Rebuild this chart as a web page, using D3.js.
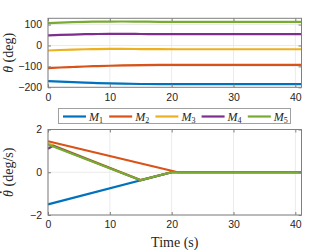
<!DOCTYPE html>
<html><head><meta charset="utf-8">
<script src="https://cdn.jsdelivr.net/npm/d3@7"></script>
<style>
html,body{margin:0;padding:0;background:#fff;}
svg{display:block;}
</style></head>
<body>
<script>
// ---------- data ----------
const seriesNames = ["1","2","3","4","5"];
const colors = ["#0072BD","#D95319","#EDB120","#7E2F8E","#77AC30"];
const xTicks = [0,10,20,30,40];
const thetaTicks = [-200,-100,0,100];
const rateTicks = [-2,0,2];

const tTheta = [0,2,4,6,8,10,12,15,18,21,41];
const theta1 = [-170,-172.9,-175.4,-177.7,-179.6,-181.3,-182.6,-184.1,-184.9,-185,-185];
const theta2 = [-108,-105.2,-102.8,-100.5,-98.6,-97,-95.6,-94,-93.1,-92.8,-92.8];
const theta3 = [-24,-21.6,-19.6,-18,-17,-16.5,-16.4,-17,-17.7,-17.9,-17.9];
const theta4 = [48,50.3,52.3,53.9,54.9,55.4,55.5,54.9,54.2,54,54];
const theta5 = [107,109.4,111.4,113,114,114.5,114.6,114,113.3,113.1,113.1];

const tRate1 = [0,20,41];        const rate1 = [-1.5,0,0];
const tRate2 = [0,21,41];        const rate2 = [1.45,0,0];
const tRate3 = [0,15,20,41];     const rate3 = [1.35,-0.36,0,0];
const tRate4 = [0,0.8,15,20,41]; const rate4 = [1.1,1.24,-0.37,0,0];
const tRate5 = [0,15,20,41];     const rate5 = [1.3,-0.37,0,0];

// ---------- layout ----------
const W = 333, H = 250;
const svg = d3.select("body").append("svg").attr("width",W).attr("height",H);
const L = 48, R = 301.5;
const x = d3.scaleLinear().domain([0,41]).range([L,R]);
const yTop = d3.scaleLinear().domain([-200,130]).range([87.3,18.3]);
const yBot = d3.scaleLinear().domain([-2,2]).range([215,129.5]);

const tickFont = "Liberation Sans, Arial, Helvetica, sans-serif";
const serif = "Liberation Serif, Times New Roman, serif";
const axisCol = "#808080";
const gridCol = "#ebebeb";
const txtCol = "#262626";

function panel(y, yTicks, tsArr, valsArr, curve){
  const g = svg.append("g");
  const [y0,y1] = y.range();
  g.selectAll(".gx").data(xTicks).enter().append("line")
    .attr("x1",d=>x(d)).attr("x2",d=>x(d)).attr("y1",y0).attr("y2",y1)
    .attr("stroke",gridCol).attr("stroke-width",1);
  g.selectAll(".gy").data(yTicks).enter().append("line")
    .attr("x1",L).attr("x2",R).attr("y1",d=>y(d)).attr("y2",d=>y(d))
    .attr("stroke",gridCol).attr("stroke-width",1);
  const line = d3.line().x(d=>x(d[0])).y(d=>y(d[1])).curve(curve);
  tsArr.forEach((ts,i)=>{
    const pts = ts.map((t,j)=>[t,valsArr[i][j]]);
    g.append("path").attr("d",line(pts))
      .attr("fill","none").attr("stroke",colors[i]).attr("stroke-width",2.2)
      .attr("stroke-linejoin","round");
  });
  const ax = d3.axisBottom(x).tickValues(xTicks).tickSize(-3).tickPadding(6).tickFormat(d3.format("d"));
  const gx = g.append("g").attr("transform",`translate(0,${y0})`).call(ax);
  const ay = d3.axisLeft(y).tickValues(yTicks).tickSize(-3).tickPadding(6).tickFormat(d3.format("d"));
  const gy = g.append("g").attr("transform",`translate(${L},0)`).call(ay);
  const axT = d3.axisTop(x).tickValues(xTicks).tickSize(-3).tickFormat("");
  const gxt = g.append("g").attr("transform",`translate(0,${y1})`).call(axT);
  const ayR = d3.axisRight(y).tickValues(yTicks).tickSize(-3).tickFormat("");
  const gyr = g.append("g").attr("transform",`translate(${R},0)`).call(ayR);
  [gx,gy,gxt,gyr].forEach(a=>{
    a.select(".domain").remove();
    a.selectAll(".tick line").attr("stroke",axisCol);
    a.selectAll("text").attr("fill",txtCol).style("font-family",tickFont).style("font-size","10.5px");
  });
  g.append("rect").attr("x",L).attr("y",y1).attr("width",R-L).attr("height",y0-y1)
    .attr("fill","none").attr("stroke",axisCol).attr("stroke-width",1);
  return g;
}

panel(yTop, thetaTicks, [tTheta,tTheta,tTheta,tTheta,tTheta], [theta1,theta2,theta3,theta4,theta5], d3.curveMonotoneX);
panel(yBot, rateTicks, [tRate1,tRate2,tRate3,tRate4,tRate5], [rate1,rate2,rate3,rate4,rate5], d3.curveLinear);

// y labels
const yl1 = svg.append("text").attr("transform",`translate(13,${(87.3+18.3)/2}) rotate(-90)`)
  .attr("text-anchor","middle").attr("fill",txtCol).style("font-family",serif).style("font-size","14px");
yl1.append("tspan").style("font-style","italic").text("θ");
yl1.append("tspan").text(" (deg)");

const g2 = svg.append("g").attr("transform",`translate(13,${(215+129.5)/2}) rotate(-90)`);
const yl2 = g2.append("text").attr("text-anchor","middle").attr("fill",txtCol)
  .style("font-family",serif).style("font-size","14px");
yl2.append("tspan").style("font-style","italic").text("θ");
yl2.append("tspan").text(" (deg/s)");
const s0 = yl2.node().getStartPositionOfChar(0).x, e0 = yl2.node().getEndPositionOfChar(0).x;
g2.append("circle").attr("cx",(s0+e0)/2+1.2).attr("cy",-12.2).attr("r",0.95).attr("fill",txtCol);

// x label
svg.append("text").attr("x",(L+R)/2).attr("y",247).attr("text-anchor","middle")
  .attr("fill",txtCol).style("font-family",serif).style("font-size","14px").text("Time (s)");

// legend
const lg = svg.append("g");
lg.append("rect").attr("x",58.5).attr("y",108.5).attr("width",232).attr("height",15)
  .attr("fill","#fff").attr("stroke","#a0a0a0").attr("stroke-width",1);
seriesNames.forEach((n,i)=>{
  const x0 = 63 + i*46.2;
  lg.append("line").attr("x1",x0).attr("x2",x0+23).attr("y1",116.5).attr("y2",116.5)
    .attr("stroke",colors[i]).attr("stroke-width",2.2);
  const t = lg.append("text").attr("x",x0+26).attr("y",120.5).attr("fill",txtCol)
    .style("font-family",serif).style("font-size","12px");
  t.append("tspan").style("font-style","italic").text("M");
  t.append("tspan").attr("dy",2.5).style("font-size","8px").text(n);
});
</script>
</body></html>
